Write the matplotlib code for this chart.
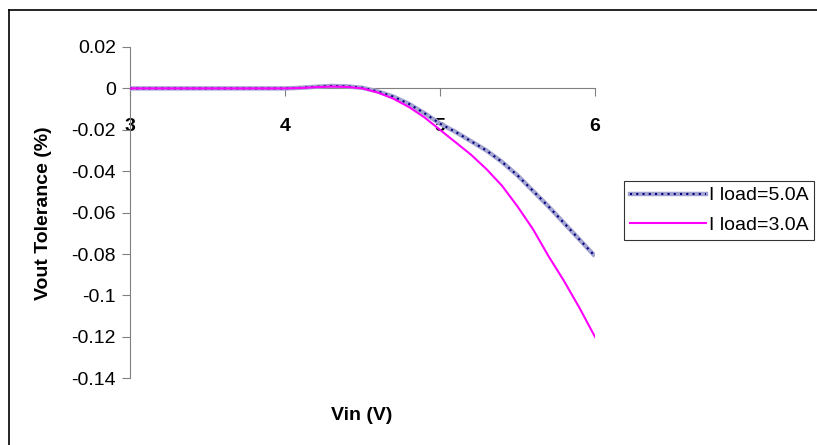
import matplotlib
matplotlib.use('Agg')
import matplotlib.pyplot as plt
from matplotlib.lines import Line2D

plt.rcParams['font.family'] = ['Liberation Sans', 'DejaVu Sans']

vin = [3.0, 3.1, 3.2, 3.3, 3.4, 3.5, 3.6, 3.7, 3.8, 3.9, 4.0,
       4.1, 4.2, 4.3, 4.4, 4.5, 4.6, 4.7, 4.8, 4.9, 5.0,
       5.1, 5.2, 5.3, 5.4, 5.5, 5.6, 5.7, 5.8, 5.9, 6.0]
tol_5a = [0, 0, 0, 0, 0, 0, 0, 0, 0, 0, 0,
          0.0003, 0.0008, 0.0012, 0.0010, 0.0003, -0.0015, -0.004, -0.0075, -0.012, -0.017,
          -0.021, -0.0255, -0.030, -0.0355, -0.042, -0.0495, -0.057, -0.065, -0.073, -0.081]
tol_3a = [0, 0, 0, 0, 0, 0, 0, 0, 0, 0, 0,
          0.0002, 0.0006, 0.0009, 0.0007, 0.0, -0.002, -0.005, -0.009, -0.014, -0.020,
          -0.026, -0.032, -0.039, -0.047, -0.057, -0.068, -0.081, -0.093, -0.106, -0.120]
xticks = [3, 4, 5, 6]
yticks = [0.02, 0, -0.02, -0.04, -0.06, -0.08, -0.1, -0.12, -0.14]
ytick_labels = ['0.02', '0', '-0.02', '-0.04', '-0.06', '-0.08', '-0.1', '-0.12', '-0.14']

FS = 14

fig = plt.figure(figsize=(8.17, 4.45), dpi=100)
ax = fig.add_axes([130 / 817, 1 - 378.3 / 445, 465 / 817, 331.3 / 445])

# outer chart frame (runs off the right and bottom of the image)
W, H = 817, 445
fig.add_artist(Line2D([9 / W, 9 / W], [1 - 10 / H, -0.01], color='black', lw=1.2))
fig.add_artist(Line2D([9 / W, 1.01], [1 - 10 / H, 1 - 10 / H], color='black', lw=1.2))

ax.plot(vin, tol_5a, color='#a4a4d0', lw=3.2, solid_capstyle='butt', zorder=3)
ax.plot(vin, tol_5a, color='#000080', lw=1.5, linestyle=(0, (1, 2)), zorder=4)
ax.plot(vin, tol_3a, color='#ff00ff', lw=1.5, zorder=5)

ax.set_xlim(3, 6)
ax.set_ylim(-0.14, 0.02)
ax.set_yticks(yticks)
ax.set_yticklabels(ytick_labels)
ax.set_xticks(xticks)
ax.set_xticklabels([str(t) for t in xticks])

for side in ['top', 'right']:
    ax.spines[side].set_visible(False)
ax.spines['bottom'].set_position(('data', 0))
ax.spines['left'].set_color('#808080')
ax.spines['bottom'].set_color('#808080')
ax.tick_params(axis='y', direction='out', length=6, color='#808080', labelsize=FS, pad=4)
ax.tick_params(axis='x', direction='out', length=6, color='#808080', labelsize=FS, pad=15)
plt.setp(ax.get_xticklabels(), fontweight='bold')

fig.text(44 / W, 1 - 213 / H, 'Vout Tolerance (%)', rotation=90, ha='center', va='center',
         fontsize=FS, fontweight='bold')
fig.text(362 / W, 1 - 416 / H, 'Vin (V)', ha='center', va='center',
         fontsize=FS, fontweight='bold')

h1a = Line2D([], [], color='#a4a4d0', lw=3.2)
h1b = Line2D([], [], color='#000080', lw=1.5, linestyle=(0, (1, 2)))
h2 = Line2D([], [], color='#ff00ff', lw=1.5)
leg = fig.legend([(h1a, h1b), h2], ['I load=5.0A', 'I load=3.0A'],
                 loc='upper left', bbox_to_anchor=(624 / W, 1 - 181 / H),
                 fontsize=FS, frameon=True, fancybox=False, edgecolor='black',
                 handlelength=3.9, handletextpad=0.15, borderpad=0.3, labelspacing=0.6,
                 borderaxespad=0)
leg.get_frame().set_linewidth(0.8)

fig.savefig('out.png', dpi=100)
